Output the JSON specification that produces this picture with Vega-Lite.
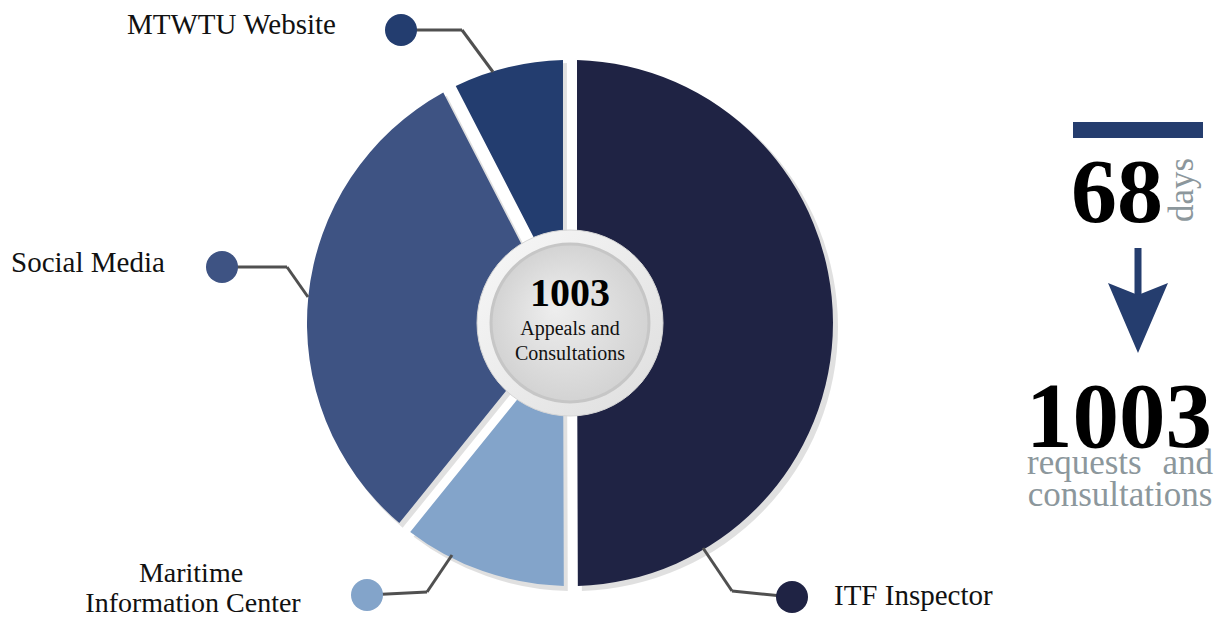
{
  "$schema": "https://vega.github.io/schema/vega-lite/v6.json",
  "width": 1227,
  "height": 619,
  "padding": 0,
  "autosize": "none",
  "background": "white",
  "config": {
    "view": {"stroke": null},
    "axis": {"disable": true},
    "text": {"font": "Liberation Serif", "color": "#111111"}
  },
  "datasets": {
    "slices": [
      {"category": "ITF Inspector", "value": 501, "ord": 1},
      {"category": "Maritime Information Center", "value": 109, "ord": 2},
      {"category": "Social Media", "value": 317, "ord": 3},
      {"category": "MTWTU Website", "value": 76, "ord": 4}
    ],
    "one": [{"k": 1}]
  },
  "data": {"name": "one"},
  "layer": [
    {
      "data": {"name": "slices"},
      "mark": {"type": "arc", "innerRadius": 60, "outerRadius": 264, "padAngle": 0.052, "color": "#000000", "opacity": 0.12},
      "encoding": {
        "theta": {"field": "value", "type": "quantitative", "stack": true},
        "order": {"field": "ord", "type": "quantitative"},
        "x": {"datum": 574, "type": "quantitative", "scale": {"domain": [0, 1227], "nice": false, "zero": false}, "axis": null},
        "y": {"datum": 327, "type": "quantitative", "scale": {"domain": [0, 619], "nice": false, "zero": false, "reverse": true}, "axis": null}
      }
    },
    {
      "data": {"name": "slices"},
      "mark": {"type": "arc", "innerRadius": 60, "outerRadius": 263, "padAngle": 0.052},
      "encoding": {
        "theta": {"field": "value", "type": "quantitative", "stack": true},
        "order": {"field": "ord", "type": "quantitative"},
        "color": {
          "field": "category",
          "type": "nominal",
          "scale": {
            "domain": ["ITF Inspector", "Maritime Information Center", "Social Media", "MTWTU Website"],
            "range": ["#1f2344", "#83a4ca", "#3e5383", "#233d6f"]
          },
          "legend": null
        },
        "x": {"datum": 570, "type": "quantitative"},
        "y": {"datum": 323, "type": "quantitative"}
      }
    },
    {
      "mark": {"type": "point", "shape": "circle", "size": 34596, "filled": true, "opacity": 1, "stroke": "#d6d6d6", "strokeWidth": 1,
        "fill": {"gradient": "linear", "x1": 0, "y1": 0, "x2": 1, "y2": 1, "stops": [{"offset": 0, "color": "#f8f8f8"}, {"offset": 1, "color": "#dedede"}]}},
      "encoding": {"x": {"datum": 570}, "y": {"datum": 323}}
    },
    {
      "mark": {"type": "point", "shape": "circle", "size": 24964, "filled": true, "opacity": 1, "stroke": "#c6c6c6", "strokeWidth": 3,
        "fill": {"gradient": "radial", "x1": 0.4, "y1": 0.4, "r1": 0, "x2": 0.5, "y2": 0.5, "r2": 0.5, "stops": [{"offset": 0, "color": "#eeeeee"}, {"offset": 1, "color": "#d3d3d3"}]}},
      "encoding": {"x": {"datum": 570}, "y": {"datum": 323}}
    },
    {"mark": {"type": "text", "fontSize": 40, "fontWeight": "bold", "align": "center", "baseline": "alphabetic", "color": "#000000"},
     "encoding": {"x": {"datum": 570}, "y": {"datum": 306}, "text": {"value": "1003"}}},
    {"mark": {"type": "text", "fontSize": 20, "align": "center", "baseline": "alphabetic"},
     "encoding": {"x": {"datum": 570}, "y": {"datum": 335}, "text": {"value": "Appeals and"}}},
    {"mark": {"type": "text", "fontSize": 20, "align": "center", "baseline": "alphabetic"},
     "encoding": {"x": {"datum": 570}, "y": {"datum": 360}, "text": {"value": "Consultations"}}},

    {"mark": {"type": "rule", "color": "#505050", "strokeWidth": 3}, "encoding": {"x": {"datum": 401}, "y": {"datum": 30}, "x2": {"datum": 462}, "y2": {"datum": 30}}},
    {"mark": {"type": "rule", "color": "#505050", "strokeWidth": 3}, "encoding": {"x": {"datum": 462}, "y": {"datum": 30}, "x2": {"datum": 493}, "y2": {"datum": 72}}},
    {"mark": {"type": "rule", "color": "#505050", "strokeWidth": 3}, "encoding": {"x": {"datum": 222}, "y": {"datum": 267}, "x2": {"datum": 287}, "y2": {"datum": 267}}},
    {"mark": {"type": "rule", "color": "#505050", "strokeWidth": 3}, "encoding": {"x": {"datum": 287}, "y": {"datum": 267}, "x2": {"datum": 308}, "y2": {"datum": 297}}},
    {"mark": {"type": "rule", "color": "#505050", "strokeWidth": 3}, "encoding": {"x": {"datum": 367}, "y": {"datum": 595}, "x2": {"datum": 427}, "y2": {"datum": 592}}},
    {"mark": {"type": "rule", "color": "#505050", "strokeWidth": 3}, "encoding": {"x": {"datum": 427}, "y": {"datum": 592}, "x2": {"datum": 452}, "y2": {"datum": 555}}},
    {"mark": {"type": "rule", "color": "#505050", "strokeWidth": 3}, "encoding": {"x": {"datum": 792}, "y": {"datum": 597}, "x2": {"datum": 732}, "y2": {"datum": 591}}},
    {"mark": {"type": "rule", "color": "#505050", "strokeWidth": 3}, "encoding": {"x": {"datum": 732}, "y": {"datum": 591}, "x2": {"datum": 703}, "y2": {"datum": 548}}},

    {"mark": {"type": "point", "shape": "circle", "size": 1024, "filled": true, "opacity": 1, "color": "#233d6f"}, "encoding": {"x": {"datum": 401}, "y": {"datum": 30}}},
    {"mark": {"type": "point", "shape": "circle", "size": 1024, "filled": true, "opacity": 1, "color": "#3e5383"}, "encoding": {"x": {"datum": 222}, "y": {"datum": 267}}},
    {"mark": {"type": "point", "shape": "circle", "size": 1024, "filled": true, "opacity": 1, "color": "#83a4ca"}, "encoding": {"x": {"datum": 367}, "y": {"datum": 595}}},
    {"mark": {"type": "point", "shape": "circle", "size": 1024, "filled": true, "opacity": 1, "color": "#1f2344"}, "encoding": {"x": {"datum": 792}, "y": {"datum": 597}}},

    {"mark": {"type": "text", "fontSize": 29, "align": "left", "baseline": "alphabetic"}, "encoding": {"x": {"datum": 127}, "y": {"datum": 34}, "text": {"value": "MTWTU Website"}}},
    {"mark": {"type": "text", "fontSize": 29, "align": "left", "baseline": "alphabetic"}, "encoding": {"x": {"datum": 11}, "y": {"datum": 272}, "text": {"value": "Social Media"}}},
    {"mark": {"type": "text", "fontSize": 28, "align": "center", "baseline": "alphabetic"}, "encoding": {"x": {"datum": 191}, "y": {"datum": 582}, "text": {"value": "Maritime"}}},
    {"mark": {"type": "text", "fontSize": 28, "align": "center", "baseline": "alphabetic"}, "encoding": {"x": {"datum": 193}, "y": {"datum": 612}, "text": {"value": "Information Center"}}},
    {"mark": {"type": "text", "fontSize": 29, "align": "left", "baseline": "alphabetic"}, "encoding": {"x": {"datum": 834}, "y": {"datum": 605}, "text": {"value": "ITF Inspector"}}},

    {"mark": {"type": "rect", "color": "#253d6e"}, "encoding": {"x": {"datum": 1073}, "x2": {"datum": 1203}, "y": {"datum": 122}, "y2": {"datum": 138}}},
    {"mark": {"type": "text", "fontSize": 92, "fontWeight": "bold", "align": "center", "baseline": "alphabetic", "color": "#000000"}, "encoding": {"x": {"datum": 1117}, "y": {"datum": 222}, "text": {"value": "68"}}},
    {"mark": {"type": "text", "fontSize": 35, "angle": 270, "align": "left", "baseline": "alphabetic", "color": "#8c979c"}, "encoding": {"x": {"datum": 1193}, "y": {"datum": 222}, "text": {"value": "days"}}},
    {"mark": {"type": "rule", "color": "#253d6e", "strokeWidth": 7}, "encoding": {"x": {"datum": 1138}, "y": {"datum": 248}, "y2": {"datum": 300}}},
    {"mark": {"type": "point", "shape": "M-0.857,-1L0,-0.657L0.857,-1L0,1Z", "size": 4900, "filled": true, "opacity": 1, "color": "#253d6e"}, "encoding": {"x": {"datum": 1138}, "y": {"datum": 318}}},
    {"mark": {"type": "text", "fontSize": 93, "fontWeight": "bold", "align": "center", "baseline": "alphabetic", "color": "#000000"}, "encoding": {"x": {"datum": 1119}, "y": {"datum": 447}, "text": {"value": "1003"}}},
    {"mark": {"type": "text", "fontSize": 35, "align": "left", "baseline": "alphabetic", "color": "#8c979c"}, "encoding": {"x": {"datum": 1027}, "y": {"datum": 474}, "text": {"value": "requests"}}},
    {"mark": {"type": "text", "fontSize": 35, "align": "right", "baseline": "alphabetic", "color": "#8c979c"}, "encoding": {"x": {"datum": 1213}, "y": {"datum": 474}, "text": {"value": "and"}}},
    {"mark": {"type": "text", "fontSize": 35, "align": "center", "baseline": "alphabetic", "color": "#8c979c"}, "encoding": {"x": {"datum": 1120}, "y": {"datum": 506}, "text": {"value": "consultations"}}}
  ]
}
